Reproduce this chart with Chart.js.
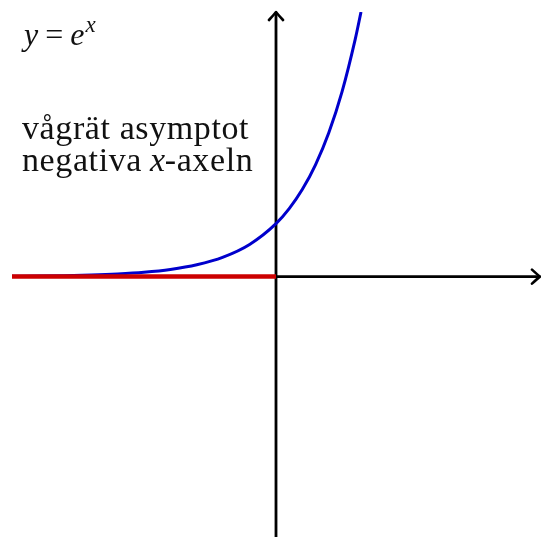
<!DOCTYPE html>
<html>
<head>
<meta charset="utf-8">
<script src="https://cdn.jsdelivr.net/npm/chart.js@4"></script>
<style>
  html, body { margin: 0; padding: 0; background: #ffffff; }
  #wrap { width: 541px; height: 537px; }
</style>
</head>
<body>
<div id="wrap"><canvas id="c" width="541" height="537"></canvas></div>
<script>
// Points along y = e^x
const curveX = [-5, -4.5, -4, -3.5, -3, -2.5, -2, -1.5, -1, -0.5, 0, 0.25, 0.5, 0.75, 1, 1.25, 1.5, 1.61];
const curveY = [0.007, 0.011, 0.018, 0.03, 0.05, 0.082, 0.135, 0.223, 0.368, 0.607, 1, 1.284, 1.649, 2.117, 2.718, 3.49, 4.482, 5.0];

// Horizontal asymptote along the negative x-axis
const asymX = [-5, 0];
const asymY = [0, 0];

// Axis extents
const xRange = [-5, 5];
const yRange = [-4.92, 5];

const toPoints = (xs, ys) => xs.map((x, i) => ({ x: x, y: ys[i] }));

const serif = '"Liberation Serif", "DejaVu Serif", serif';

// Coordinate axes with arrow heads, drawn through the chart's own scales
const axesPlugin = {
  id: 'axesArrows',
  beforeDatasetsDraw(chart) {
    const { ctx, scales: { x, y } } = chart;
    const x0 = x.getPixelForValue(0);
    const y0 = y.getPixelForValue(0);
    const xl = x.getPixelForValue(xRange[0]);
    const xr = x.getPixelForValue(xRange[1]);
    const yt = y.getPixelForValue(yRange[1]);
    const yb = y.getPixelForValue(yRange[0]);
    ctx.save();
    ctx.strokeStyle = '#000';
    ctx.lineWidth = 2.8;
    ctx.lineCap = 'butt';
    ctx.beginPath();
    ctx.moveTo(xl, y0); ctx.lineTo(xr - 1, y0);
    ctx.moveTo(x0, yb + 2); ctx.lineTo(x0, yt + 1);
    ctx.stroke();
    // arrow heads
    ctx.lineCap = 'round';
    ctx.lineJoin = 'round';
    ctx.lineWidth = 2.6;
    const L = 8, W = 7;
    ctx.beginPath();
    ctx.moveTo(xr - L, y0 - W);
    ctx.quadraticCurveTo(xr - 2, y0 - 1.5, xr, y0);
    ctx.quadraticCurveTo(xr - 2, y0 + 1.5, xr - L, y0 + W);
    ctx.moveTo(x0 - W, yt + L);
    ctx.quadraticCurveTo(x0 - 1.5, yt + 2, x0, yt);
    ctx.quadraticCurveTo(x0 + 1.5, yt + 2, x0 + W, yt + L);
    ctx.stroke();
    ctx.restore();
  }
};

// Text annotations
const textPlugin = {
  id: 'annotations',
  afterDraw(chart) {
    const ctx = chart.ctx;
    ctx.save();
    ctx.fillStyle = '#111';
    ctx.textBaseline = 'alphabetic';
    ctx.textAlign = 'left';
    // y = e^x
    let px = 24;
    const base = 45;
    ctx.font = 'italic 32px ' + serif;
    ctx.fillText('y', px, base); px += ctx.measureText('y').width + 7;
    ctx.font = '32px ' + serif;
    ctx.fillText('=', px, base); px += ctx.measureText('=').width + 7;
    ctx.font = 'italic 32px ' + serif;
    ctx.fillText('e', px, base); px += ctx.measureText('e').width + 1;
    ctx.font = 'italic 23px ' + serif;
    ctx.fillText('x', px, base - 13);

    // caption
    ctx.letterSpacing = '0.6px';
    ctx.font = '34px ' + serif;
    ctx.fillText('vågrät asymptot', 22, 139);
    let qx = 22;
    const b2 = 171;
    ctx.fillText('negativa ', qx, b2); qx += ctx.measureText('negativa ').width - 1;
    ctx.font = 'italic 34px ' + serif;
    ctx.fillText('x', qx, b2); qx += ctx.measureText('x').width - 1;
    ctx.font = '34px ' + serif;
    ctx.fillText('-axeln', qx, b2);
    ctx.restore();
  }
};

new Chart(document.getElementById('c'), {
  type: 'scatter',
  data: {
    datasets: [
      {
        label: 'asymptot',
        data: toPoints(asymX, asymY),
        showLine: true,
        borderColor: '#cc0000',
        borderWidth: 4.5,
        pointRadius: 0,
        borderCapStyle: 'butt',
        order: 0
      },
      {
        label: 'y = e^x',
        data: toPoints(curveX, curveY),
        showLine: true,
        borderColor: '#0000cc',
        borderWidth: 3,
        pointRadius: 0,
        cubicInterpolationMode: 'monotone',
        order: 1
      }
    ]
  },
  options: {
    responsive: false,
    animation: false,
    devicePixelRatio: 1,
    layout: { padding: { left: 12, right: 1, top: 12, bottom: 0 } },
    plugins: { legend: { display: false }, tooltip: { enabled: false } },
    scales: {
      x: { type: 'linear', min: xRange[0], max: xRange[1], display: false },
      y: { type: 'linear', min: yRange[0], max: yRange[1], display: false }
    }
  },
  plugins: [axesPlugin, textPlugin]
});
</script>
</body>
</html>
